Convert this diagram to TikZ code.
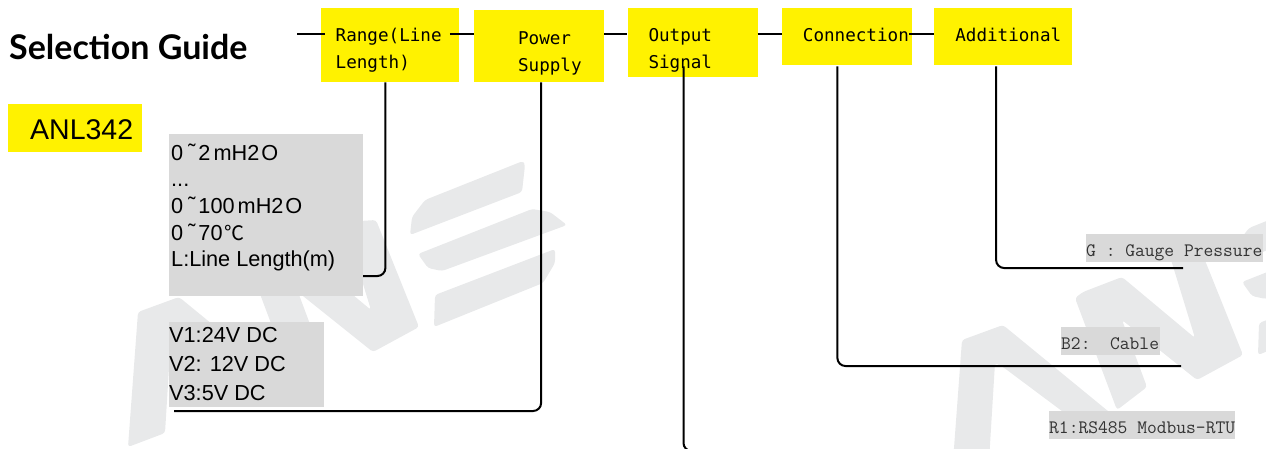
\documentclass[tikz,border=0pt]{standalone}
\usepackage{fontspec}
\setmainfont{Liberation Sans}
\newfontfamily\titlefont{Lato}
\newfontfamily\headfont{DejaVu Sans Mono}
\newfontfamily\cjkfont{Noto Sans CJK SC}
\usetikzlibrary{positioning}
\definecolor{headyellow}{HTML}{FFF200}
\definecolor{optgrey}{HTML}{D9D9D9}
\definecolor{markgrey}{HTML}{E8E9EA}
\newcommand{\rng}{\kern5pt\raisebox{1pt}{˜}\kern3pt}
\newcommand{\wtr}{\kern3pt mH2\kern2pt O}
\tikzset{
    textbox/.style n args={4}{inner sep=0pt, align=left, anchor=north west, text width=#1pt,
        text height=#2pt, text depth=#3pt,
        execute at begin node={\leftskip=#4pt\relax\spaceskip=0pt\relax\xspaceskip=0pt\relax}},
    headbox/.style={fill=headyellow, font=\headfont\fontsize{17.6}{27}\selectfont},
    optbox/.style={fill=optgrey, font=\fontsize{21.7}{26.6}\selectfont},
    codebox/.style={fill=optgrey, text=black!80, font=\ttfamily\fontsize{19}{22}\selectfont},
    bus/.style={line width=2.6pt},
    leader/.style={line width=2pt, rounded corners=8pt}
}
\begin{document}
\begin{tikzpicture}[x=1pt,y=-1pt]
            \useasboundingbox (0,0) rectangle (1266,448);
            \clip (0,0) rectangle (1266,448);

            \foreach \dx/\dy in {0/0,-824/-28} {
                \begin{scope}[shift={(\dx,\dy)}, fill=markgrey, rounded corners=3pt]
                    \fill (962,340) -- (1003,325) -- (1125,425) -- (1090,432) -- (1003,367) -- (995,363) -- (989,461) -- (952,475) -- cycle;
                    \fill (1075,298) -- (1083,292) -- (1122,277) -- (1195,338) -- (1168,250) -- (1200,248) -- (1243,355) -- (1197,380) -- (1122,320) -- (1147,387) -- (1117,410) -- cycle;
                    \fill (1234,263) -- (1236,245) -- (1249,228) -- (1347,189) -- (1349,193) -- (1346,220) -- cycle;
                    \fill (1242,282) -- (1356,237) -- (1374,240) -- (1391,253) -- (1266,299) -- (1252,296) -- cycle;
                    \fill (1259,323) -- (1379,277) -- (1379,291) -- (1367,311) -- (1258,355) -- cycle;
                \end{scope}
            }

            \node[textbox={260}{27}{5}{0}, font=\titlefont\bfseries\fontsize{34}{35}\selectfont] (title) at (9,32) {Selection Guide};
            \node[textbox={134}{35}{13}{22}, fill=headyellow, font=\fontsize{28.5}{30}\selectfont] (model) at (8,104) {ANL342};

            \node[headbox, textbox={138}{33}{41}{15}] (range) at (320.5,8) {Range(Line\\Length)};
            \node[headbox, textbox={130}{34}{38}{44}] (power) [below right=2pt and 15pt of range.north east] {Power\\Supply};
            \node[headbox, textbox={130}{33}{36}{21}] (output) [below right=-2pt and 23pt of power.north east] {Output\\Signal};
            \node[headbox, textbox={130}{33}{24}{21}] (connection) [below right=0pt and 24pt of output.north east] {Connection};
            \node[headbox, textbox={138}{33}{24}{21}] (additional) [below right=0pt and 22pt of connection.north east] {Additional};

            \node[optbox, textbox={194}{26}{136}{2}] (rangeopt) at (169,134) {0\rng 2\wtr\\...\\0\rng 100\wtr\\0\rng 70\kern2pt{\cjkfont\fontsize{20}{20}\selectfont ℃}\\L:Line Length(m)};
            \node[optbox, textbox={155}{20}{65}{0}, font=\fontsize{21.7}{29}\selectfont] (poweropt) at (169,322) {V1:24V DC\\V2: 12V DC\\V3:5V DC};
            \node[codebox, textbox={186}{22}{6}{0}] (outputopt) at (1049,411) {R1:RS485 Modbus-RTU};
            \node[codebox, textbox={99}{22}{6}{0}] (connectionopt) at (1061,327) {B2:\ \ Cable};
            \node[codebox, textbox={177}{22}{6}{0}] (additionalopt) at (1086,234) {G : Gauge Pressure};

            \coordinate (start) at (297,34);
            \coordinate (rangeend) at (363,276);
            \coordinate (powerend) at (174,411);
            \coordinate (outputend) at (705,451);
            \coordinate (connectionend) at (1181,366);
            \coordinate (additionalend) at (1183,268);

            \draw[bus] (start) -- ([xshift=4pt]range.west |- start);
            \draw[bus] ([xshift=-9pt]range.east |- start) -- (power.west |- start);
            \draw[bus] (power.east |- start) -- (output.west |- start);
            \draw[bus] (output.east |- start) -- (connection.west |- start);
            \draw[bus] ([xshift=-3pt]connection.east |- start) -- (additional.west |- start);

            \draw[leader] ([xshift=-4.3pt]range.south) |- (rangeend);
            \draw[leader] ([xshift=2pt]power.south) |- (powerend);
            \draw[leader] ([xshift=-9pt,yshift=11pt]output.south) |- (outputend);
            \draw[leader] ([xshift=-9.5pt,yshift=-1pt]connection.south) |- (connectionend);
            \draw[leader] ([xshift=-7.2pt,yshift=-1pt]additional.south) |- (additionalend);
\end{tikzpicture}
\end{document}
